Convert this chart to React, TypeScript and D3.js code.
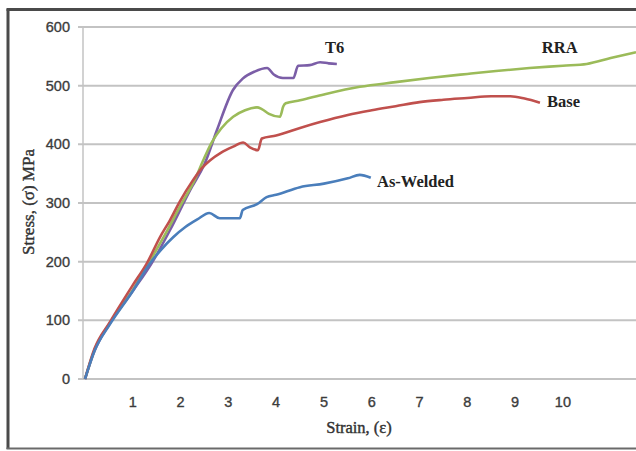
import React from "react";
import * as d3 from "d3";

const yTicks = [0, 100, 200, 300, 400, 500, 600];
const xTicks = [1, 2, 3, 4, 5, 6, 7, 8, 9, 10];

const t6Strain = [0, 0.2, 0.52, 1.0, 1.4, 1.78, 2.2, 2.51, 2.76, 3.1, 3.3, 3.55, 3.81, 3.95, 4.14, 4.36, 4.46, 4.7, 4.92, 5.1, 5.27];
const t6Stress = [0, 48, 95, 150, 198, 254, 322, 368, 424, 493, 512, 524, 530, 519, 513, 513, 534, 535, 540, 538, 537];

const rraStrain = [0, 0.2, 0.52, 1.0, 1.35, 1.7, 2.0, 2.3, 2.47, 2.65, 2.85, 3.1, 3.35, 3.6, 3.7, 3.85, 4.08, 4.15, 4.2, 4.5, 5.0, 5.75, 6.5, 7.2, 8.0, 8.6, 9.3, 10.0, 10.5, 11.0, 11.53];
const rraStress = [0, 50, 95, 152, 200, 250, 296, 340, 372, 403, 427, 447, 458, 463, 460, 452, 447, 465, 470, 475, 485, 498, 506, 513, 520, 525, 530, 534, 537, 547, 557];

const baseStrain = [0, 0.2, 0.52, 1.0, 1.3, 1.57, 1.78, 1.98, 2.26, 2.45, 2.62, 2.85, 3.1, 3.31, 3.45, 3.62, 3.7, 4.0, 4.5, 4.92, 5.5, 6.0, 6.5, 7.0, 7.5, 8.0, 8.5, 8.9, 9.2, 9.52];
const baseStress = [0, 52, 97, 160, 198, 242, 271, 302, 339, 360, 373, 386, 396, 403, 395, 390, 410, 415, 428, 438, 450, 458, 465, 472, 476, 479, 482, 482, 478, 471];

const weldStrain = [0, 0.2, 0.52, 1.0, 1.35, 1.6, 1.85, 2.1, 2.35, 2.6, 2.82, 3.0, 3.24, 3.3, 3.6, 3.8, 4.0, 4.5, 5.0, 5.5, 5.75, 5.98];
const weldStress = [0, 48, 93, 150, 196, 221, 242, 259, 272, 283, 274, 274, 274, 288, 298, 310, 314, 327, 333, 342, 348, 343];

const seriesNames = ["T6", "RRA", "Base", "As-Welded"];
const seriesColors = ["#7b5ea7", "#9bbb59", "#c0504d", "#4a7ebb"];
const seriesStrain = [t6Strain, rraStrain, baseStrain, weldStrain];
const seriesStress = [t6Stress, rraStress, baseStress, weldStress];
const labelPos = [
  { x: 5.02, y: 556 },
  { x: 9.56, y: 556 },
  { x: 9.67, y: 464 },
  { x: 6.11, y: 327 },
];

export default function App() {
  const W = 636;
  const H = 451;
  const x = d3.scaleLinear().domain([0, 11.53]).range([85, 636]);
  const y = d3.scaleLinear().domain([0, 600]).range([379, 27]);
  const line = d3
    .line<[number, number]>()
    .x((d) => x(d[0]))
    .y((d) => y(d[1]))
    .curve(d3.curveMonotoneX);

  const tickFont = {
    fontFamily: "Liberation Sans, Arial, sans-serif",
    fontSize: 14.5,
    fill: "#3c3c3c",
    stroke: "#3c3c3c",
    strokeWidth: 0.35,
  };
  const titleFont = {
    fontFamily: "Liberation Serif, Times New Roman, serif",
    fill: "#333",
    stroke: "#333",
    strokeWidth: 0.4,
  };

  return (
    <svg
      width={W}
      height={H}
      style={{ position: "absolute", left: 0, top: 0, background: "#fff" }}
    >
      <rect x={0} y={0} width={W} height={H} fill="#fff" />
      {/* frame */}
      <line x1={8} y1={9} x2={8} y2={449} stroke="#4a4a4a" strokeWidth={3} />
      <line x1={6.5} y1={9.5} x2={636} y2={9.5} stroke="#4a4a4a" strokeWidth={3} />
      <line x1={6.5} y1={448.5} x2={636} y2={448.5} stroke="#6a6a6a" strokeWidth={2} />
      {/* gridlines */}
      {yTicks.map((t) => (
        <g key={t}>
          <line x1={78} x2={636} y1={y(t)} y2={y(t)} stroke="#c3c3c3" strokeWidth={2} />
          <text x={70} y={y(t)} dy="0.35em" textAnchor="end" {...tickFont}>
            {t}
          </text>
        </g>
      ))}
      <line x1={83} x2={83} y1={y(600)} y2={y(0)} stroke="#c3c3c3" strokeWidth={1.5} />
      {xTicks.map((t) => (
        <text key={t} x={x(t)} y={402} dy="0.35em" textAnchor="middle" {...tickFont}>
          {t}
        </text>
      ))}
      <text x={359} y={433} textAnchor="middle" fontSize={16.5} {...titleFont}>
        Strain, (ε)
      </text>
      <text
        transform={`translate(34,${202}) rotate(-90)`}
        textAnchor="middle"
        fontSize={17}
        {...titleFont}
      >
        Stress, (σ) MPa
      </text>
      {/* curves */}
      {seriesNames.map((name, i) => {
        const pts: [number, number][] = seriesStrain[i].map((s, j) => [s, seriesStress[i][j]]);
        return (
          <path
            key={name}
            d={line(pts) || ""}
            fill="none"
            stroke={seriesColors[i]}
            strokeWidth={2.6}
            strokeLinejoin="round"
          />
        );
      })}
      {seriesNames.map((name, i) => (
        <text
          key={name + "l"}
          x={x(labelPos[i].x)}
          y={y(labelPos[i].y)}
          fontFamily="Liberation Serif, Times New Roman, serif"
          fontWeight="bold"
          fontSize={16.5}
          fill="#222"
        >
          {name}
        </text>
      ))}
    </svg>
  );
}
